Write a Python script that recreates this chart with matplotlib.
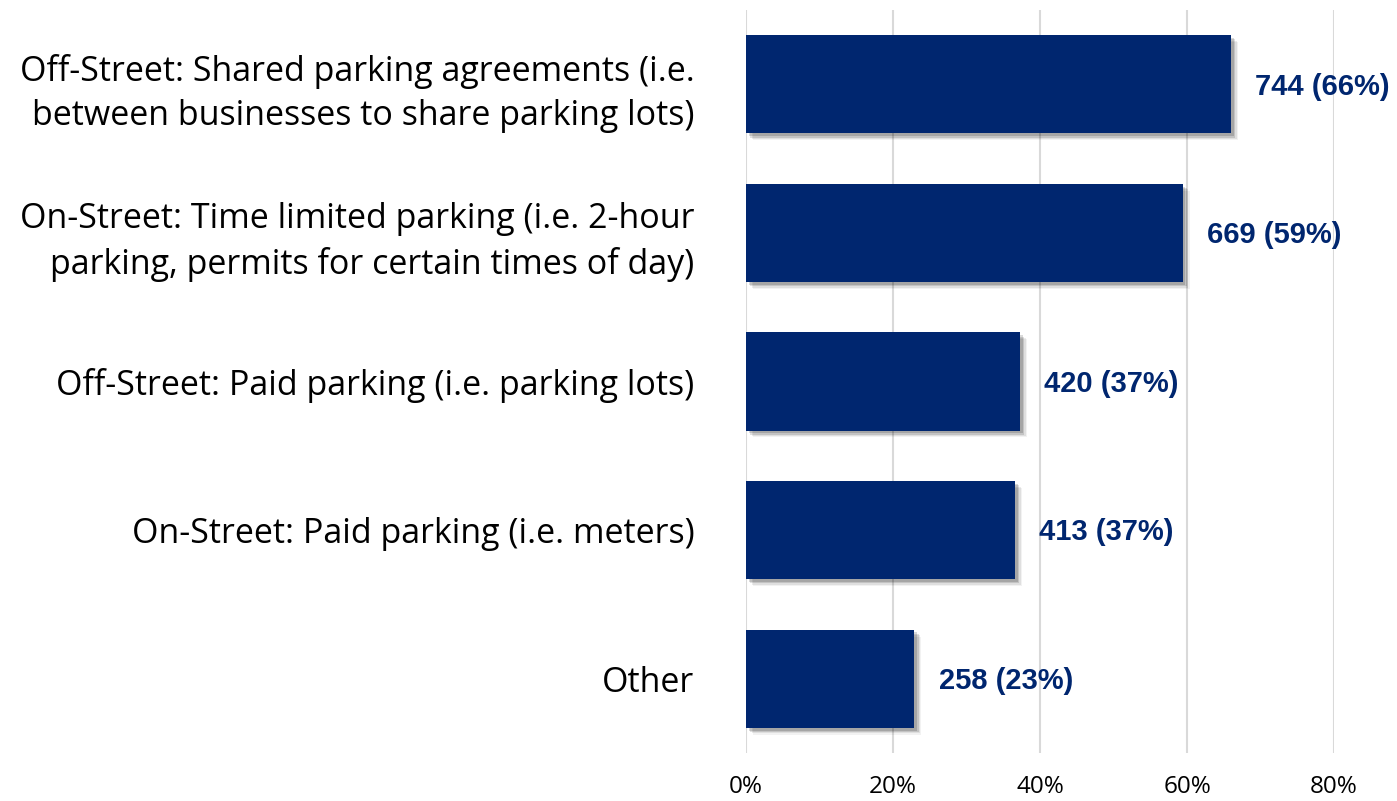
import matplotlib
matplotlib.use("Agg")
import matplotlib.pyplot as plt
import matplotlib.patheffects as pe
from matplotlib.ticker import FuncFormatter

# data
categories = [
    "Off-Street: Shared parking agreements (i.e.\nbetween businesses to share parking lots)",
    "On-Street: Time limited parking (i.e. 2-hour\nparking, permits for certain times of day)",
    "Off-Street: Paid parking (i.e. parking lots)",
    "On-Street: Paid parking (i.e. meters)",
    "Other",
]
counts = [744, 669, 420, 413, 258]
percents = [66.0, 59.4, 37.3, 36.6, 22.9]
pct_labels = [66, 59, 37, 37, 23]

bar_color = "#00266F"

fig = plt.figure(figsize=(13.97, 8.01), dpi=100)
ax = fig.add_axes([0.534, 0.0599, 0.421, 0.9276])

ypos = list(range(len(categories)))
bars = ax.barh(ypos, percents, height=0.66, color=bar_color, zorder=3)

# soft drop shadow behind the bars
for b in bars:
    b.set_path_effects([
        pe.SimplePatchShadow(offset=(5, -5), shadow_rgbFace="#000000", alpha=0.05),
        pe.SimplePatchShadow(offset=(4, -4), shadow_rgbFace="#000000", alpha=0.08),
        pe.SimplePatchShadow(offset=(3, -3), shadow_rgbFace="#000000", alpha=0.12),
        pe.SimplePatchShadow(offset=(2, -2), shadow_rgbFace="#000000", alpha=0.15),
        pe.Normal(),
    ])

for y, p, c, pl in zip(ypos, percents, counts, pct_labels):
    ax.text(p + 3.3, y + 0.015, f"{c} ({pl}%)", va="center", ha="left",
            fontsize=21, fontweight="bold", color=bar_color,
            family="Liberation Sans", zorder=4)

ax.set_xlim(0, 80)
ax.set_ylim(4.5, -0.5)
ax.set_xticks([0, 20, 40, 60, 80])
ax.xaxis.set_major_formatter(FuncFormatter(lambda v, _: f"{v:.0f}%"))
ax.set_yticks(ypos)
ax.set_yticklabels(categories, fontsize=24.5, family="Open Sans", linespacing=1.4)
ax.tick_params(axis="x", labelsize=17.5, length=0, pad=16)
ax.tick_params(axis="y", length=0, pad=37)
for lbl in ax.get_yticklabels():
    lbl.set_horizontalalignment("right")
for lbl in ax.get_xticklabels():
    lbl.set_family("Open Sans")

ax.grid(axis="x", color="#D9D9D9", linewidth=1.5, zorder=0)
for s in ax.spines.values():
    s.set_visible(False)

plt.savefig("out.png", dpi=100)
